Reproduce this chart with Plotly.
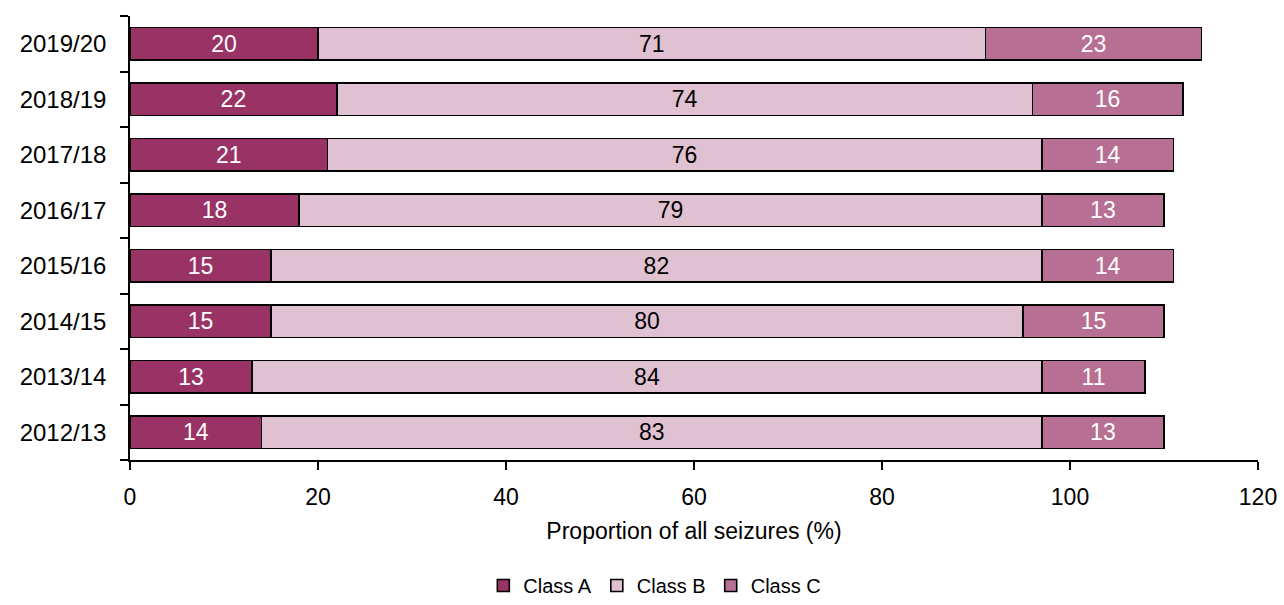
import plotly.graph_objects as go

years = ["2012/13", "2013/14", "2014/15", "2015/16", "2016/17", "2017/18", "2018/19", "2019/20"]
class_a = [14, 13, 15, 15, 18, 21, 22, 20]
class_b = [83, 84, 80, 82, 79, 76, 74, 71]
class_c = [13, 11, 15, 14, 13, 14, 16, 23]
x_ticks = [0, 20, 40, 60, 80, 100, 120]

FONT = "Liberation Sans, Arial, sans-serif"

series = [
    ("Class A", class_a, "#993366", "white"),
    ("Class B", class_b, "#E0C1D1", "black"),
    ("Class C", class_c, "#B77093", "white"),
]

fig = go.Figure()
for name, vals, col, tcol in series:
    fig.add_trace(go.Bar(
        y=years, x=vals, name=name, orientation="h",
        marker=dict(color=col, line=dict(color="black", width=1.6)),
        text=vals, textposition="inside", insidetextanchor="middle", textangle=0,
        textfont=dict(color=tcol, size=23, family=FONT),
        constraintext="none",
    ))

fig.update_layout(
    barmode="stack",
    bargap=0.42,
    width=1284, height=605,
    margin=dict(l=130, r=26, t=16, b=145, autoexpand=False),
    plot_bgcolor="white", paper_bgcolor="white",
    font=dict(family=FONT, size=23, color="black"),
    showlegend=True,
    legend=dict(orientation="h", xref="container", yref="container",
                x=0.51, xanchor="center", y=-0.01, yanchor="bottom",
                font=dict(size=20), itemwidth=30, traceorder="normal",
                bgcolor="rgba(0,0,0,0)"),
    uniformtext=dict(mode=False),
)
fig.update_xaxes(
    range=[0, 120], tickvals=x_ticks, ticks="outside", ticklen=8, tickwidth=1.5,
    tickcolor="black", showline=True, linecolor="black", linewidth=1.5,
    showgrid=False, zeroline=False, ticklabelstandoff=8,
    title=dict(text="Proportion of all seizures (%)", font=dict(size=23), standoff=14),
    tickfont=dict(size=23),
)
fig.update_yaxes(
    categoryorder="array", categoryarray=years, range=[-0.5, 7.5],
    ticks="outside", tickson="boundaries", ticklen=8, tickwidth=1.5, tickcolor="black",
    showline=True, linecolor="black", linewidth=1.5, showgrid=False,
    ticklabelstandoff=17,
    tickfont=dict(size=24),
)

fig.write_html("out.html")
